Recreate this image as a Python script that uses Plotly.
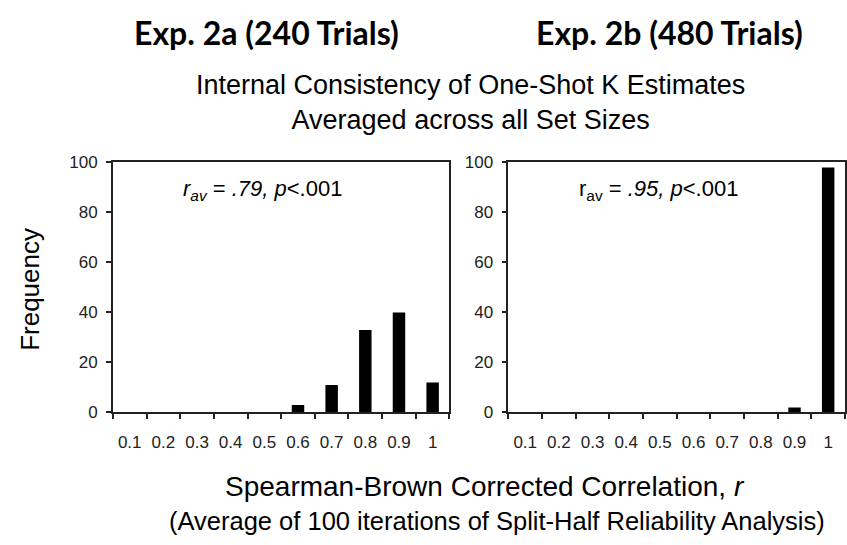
import plotly.graph_objects as go

W, H = 847, 545

categories = ["0.1", "0.2", "0.3", "0.4", "0.5", "0.6", "0.7", "0.8", "0.9", "1"]
freq_2a = [0, 0, 0, 0, 0, 3, 11, 33, 40, 12]
freq_2b = [0, 0, 0, 0, 0, 0, 0, 0, 2, 98]
y_ticks = [0, 20, 40, 60, 80, 100]

panel_titles = ["Exp. 2a (240 Trials)", "Exp. 2b (480 Trials)"]
subtitle = "Internal Consistency of One-Shot K Estimates<br>Averaged across all Set Sizes"
ann_2a = "<i>r</i><sub><i>av</i></sub> = <i>.79, p</i>&lt;.001"
ann_2b = "r<sub>av</sub> = <i>.95, p</i>&lt;.001"
x_title_1 = "Spearman-Brown Corrected Correlation, <i>r</i>"
x_title_2 = "(Average of 100 iterations of Split-Half Reliability Analysis)"
y_title = "Frequency"

ARIAL = "Liberation Sans, Arial"


def px(x):
    return x / W


def py(y):
    return 1 - y / H


fig = go.Figure()
fig.add_trace(go.Bar(x=categories, y=freq_2a, marker=dict(color="black", line=dict(width=0)),
                     width=0.37, xaxis="x", yaxis="y", showlegend=False))
fig.add_trace(go.Bar(x=categories, y=freq_2b, marker=dict(color="black", line=dict(width=0)),
                     width=0.37, xaxis="x2", yaxis="y2", showlegend=False))

xcommon = dict(type="category", tickson="boundaries", ticks="outside", ticklen=5, tickwidth=1.5,
               tickcolor="#222", showline=True, linecolor="#222", linewidth=1.5, mirror=True,
               showgrid=False, tickfont=dict(family=ARIAL, size=17, color="#222"),
               ticklabelstandoff=13)
ycommon = dict(range=[0, 100], tickvals=y_ticks, ticks="outside", ticklen=5, tickwidth=1.5,
               tickcolor="#222", showline=True, linecolor="#222", linewidth=1.5, mirror=True,
               showgrid=False, zeroline=False, tickfont=dict(family=ARIAL, size=17, color="#222"),
               ticklabelstandoff=5)

fig.update_layout(
    width=W, height=H,
    margin=dict(l=0, r=0, t=0, b=0),
    paper_bgcolor="white", plot_bgcolor="white",
    xaxis=dict(domain=[px(113), px(450)], anchor="y", **xcommon),
    yaxis=dict(domain=[py(418), py(159)], anchor="x", **ycommon),
    xaxis2=dict(domain=[px(509), px(846)], anchor="y2", **xcommon),
    yaxis2=dict(domain=[py(418), py(159)], anchor="x2", **ycommon),
)

annots = [
    dict(text="<b>" + panel_titles[0] + "</b>", x=px(267), y=py(24),
         font=dict(family="Lato, Open Sans", size=32, color="black")),
    dict(text="<b>" + panel_titles[1] + "</b>", x=px(670), y=py(24),
         font=dict(family="Lato, Open Sans", size=32, color="black")),
    dict(text=subtitle, x=px(471), y=py(97), font=dict(family=ARIAL, size=27, color="black")),
    dict(text=ann_2a, x=px(263), y=py(188), font=dict(family=ARIAL, size=22, color="black")),
    dict(text=ann_2b, x=px(659), y=py(188), font=dict(family=ARIAL, size=22, color="black")),
    dict(text=x_title_1, x=px(486), y=py(495), font=dict(family=ARIAL, size=28, color="black")),
    dict(text=x_title_2, x=px(498), y=py(531), font=dict(family=ARIAL, size=25.5, color="black")),
    dict(text=y_title, x=px(30), y=py(290), textangle=-90, font=dict(family=ARIAL, size=26, color="black")),
]
for a in annots:
    a.update(xref="paper", yref="paper", showarrow=False, xanchor="center", yanchor="middle")
    fig.add_annotation(**a)

fig.write_html("out.html")
